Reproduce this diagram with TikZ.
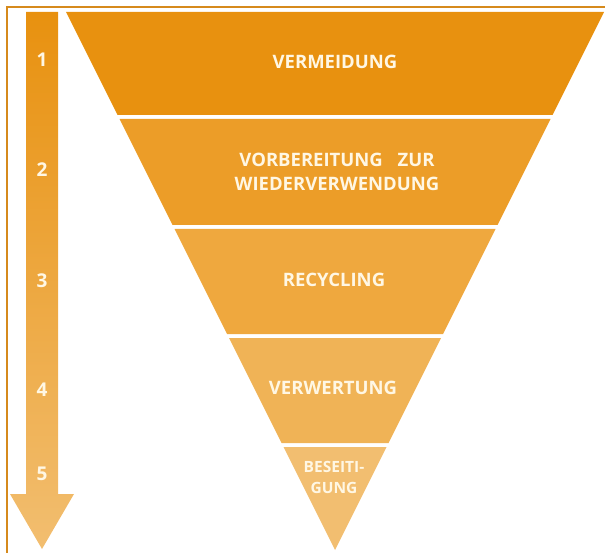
\documentclass[tikz,border=0pt]{standalone}
\usepackage{fontspec}
\setsansfont{Open Sans}
\definecolor{frame}{RGB}{214,138,28}
\definecolor{st1}{RGB}{232,145,15}
\definecolor{st2}{RGB}{236,157,40}
\definecolor{st3}{RGB}{239,168,62}
\definecolor{st4}{RGB}{240,179,86}
\definecolor{st5}{RGB}{242,190,112}
\definecolor{cream}{RGB}{255,247,228}
\begin{document}
\begin{tikzpicture}[x=1pt,y=-1pt,
    lbl/.style={text=cream,font=\sffamily\bfseries\fontsize{18.5}{24}\selectfont,align=center},
    num/.style={text=cream,font=\sffamily\bfseries\fontsize{19}{20}\selectfont}]
      \useasboundingbox (0,0) rectangle (605,553);
      \draw[frame,line width=2.5](7,553)--(7,7)--(605,7);
      % Pfeil
      \shade[top color=st1,bottom color=st5](26,12)--(58,12)--(58,494)--(74,494)--(42,549)--(10,494)--(26,494)--cycle;
      \foreach \x/\y in{1/60, 2/170, 3/281, 4/390, 5/474}{
        \node[num](N\x) at(42,\y) {\x};
      }
      % Stufen
      \foreach \i/\a/\b in{1/12/115, 2/119/225, 3/229/334, 4/338/443, 5/447/550}{
        \fill[st\i]({335-(550-\a)/2},\a)--({335+(550-\a)/2},\a)--({335+(550-\b)/2},\b)--({335-(550-\b)/2},\b)--cycle;
      }
      \node[lbl](S1) at(335,62) {VERMEIDUNG};
      \node[lbl](S2) at(337,172) {VORBEREITUNG\hspace{0.8em}ZUR\\WIEDERVERWENDUNG};
      \node[lbl](S3) at(334,280) {RECYCLING};
      \node[lbl](S4) at(333,388) {VERWERTUNG};
      \node[lbl,font=\sffamily\bfseries\fontsize{15.5}{21}\selectfont](S5) at(334,477) {BESEITI-\\GUNG};
    \end{tikzpicture}
\end{document}
